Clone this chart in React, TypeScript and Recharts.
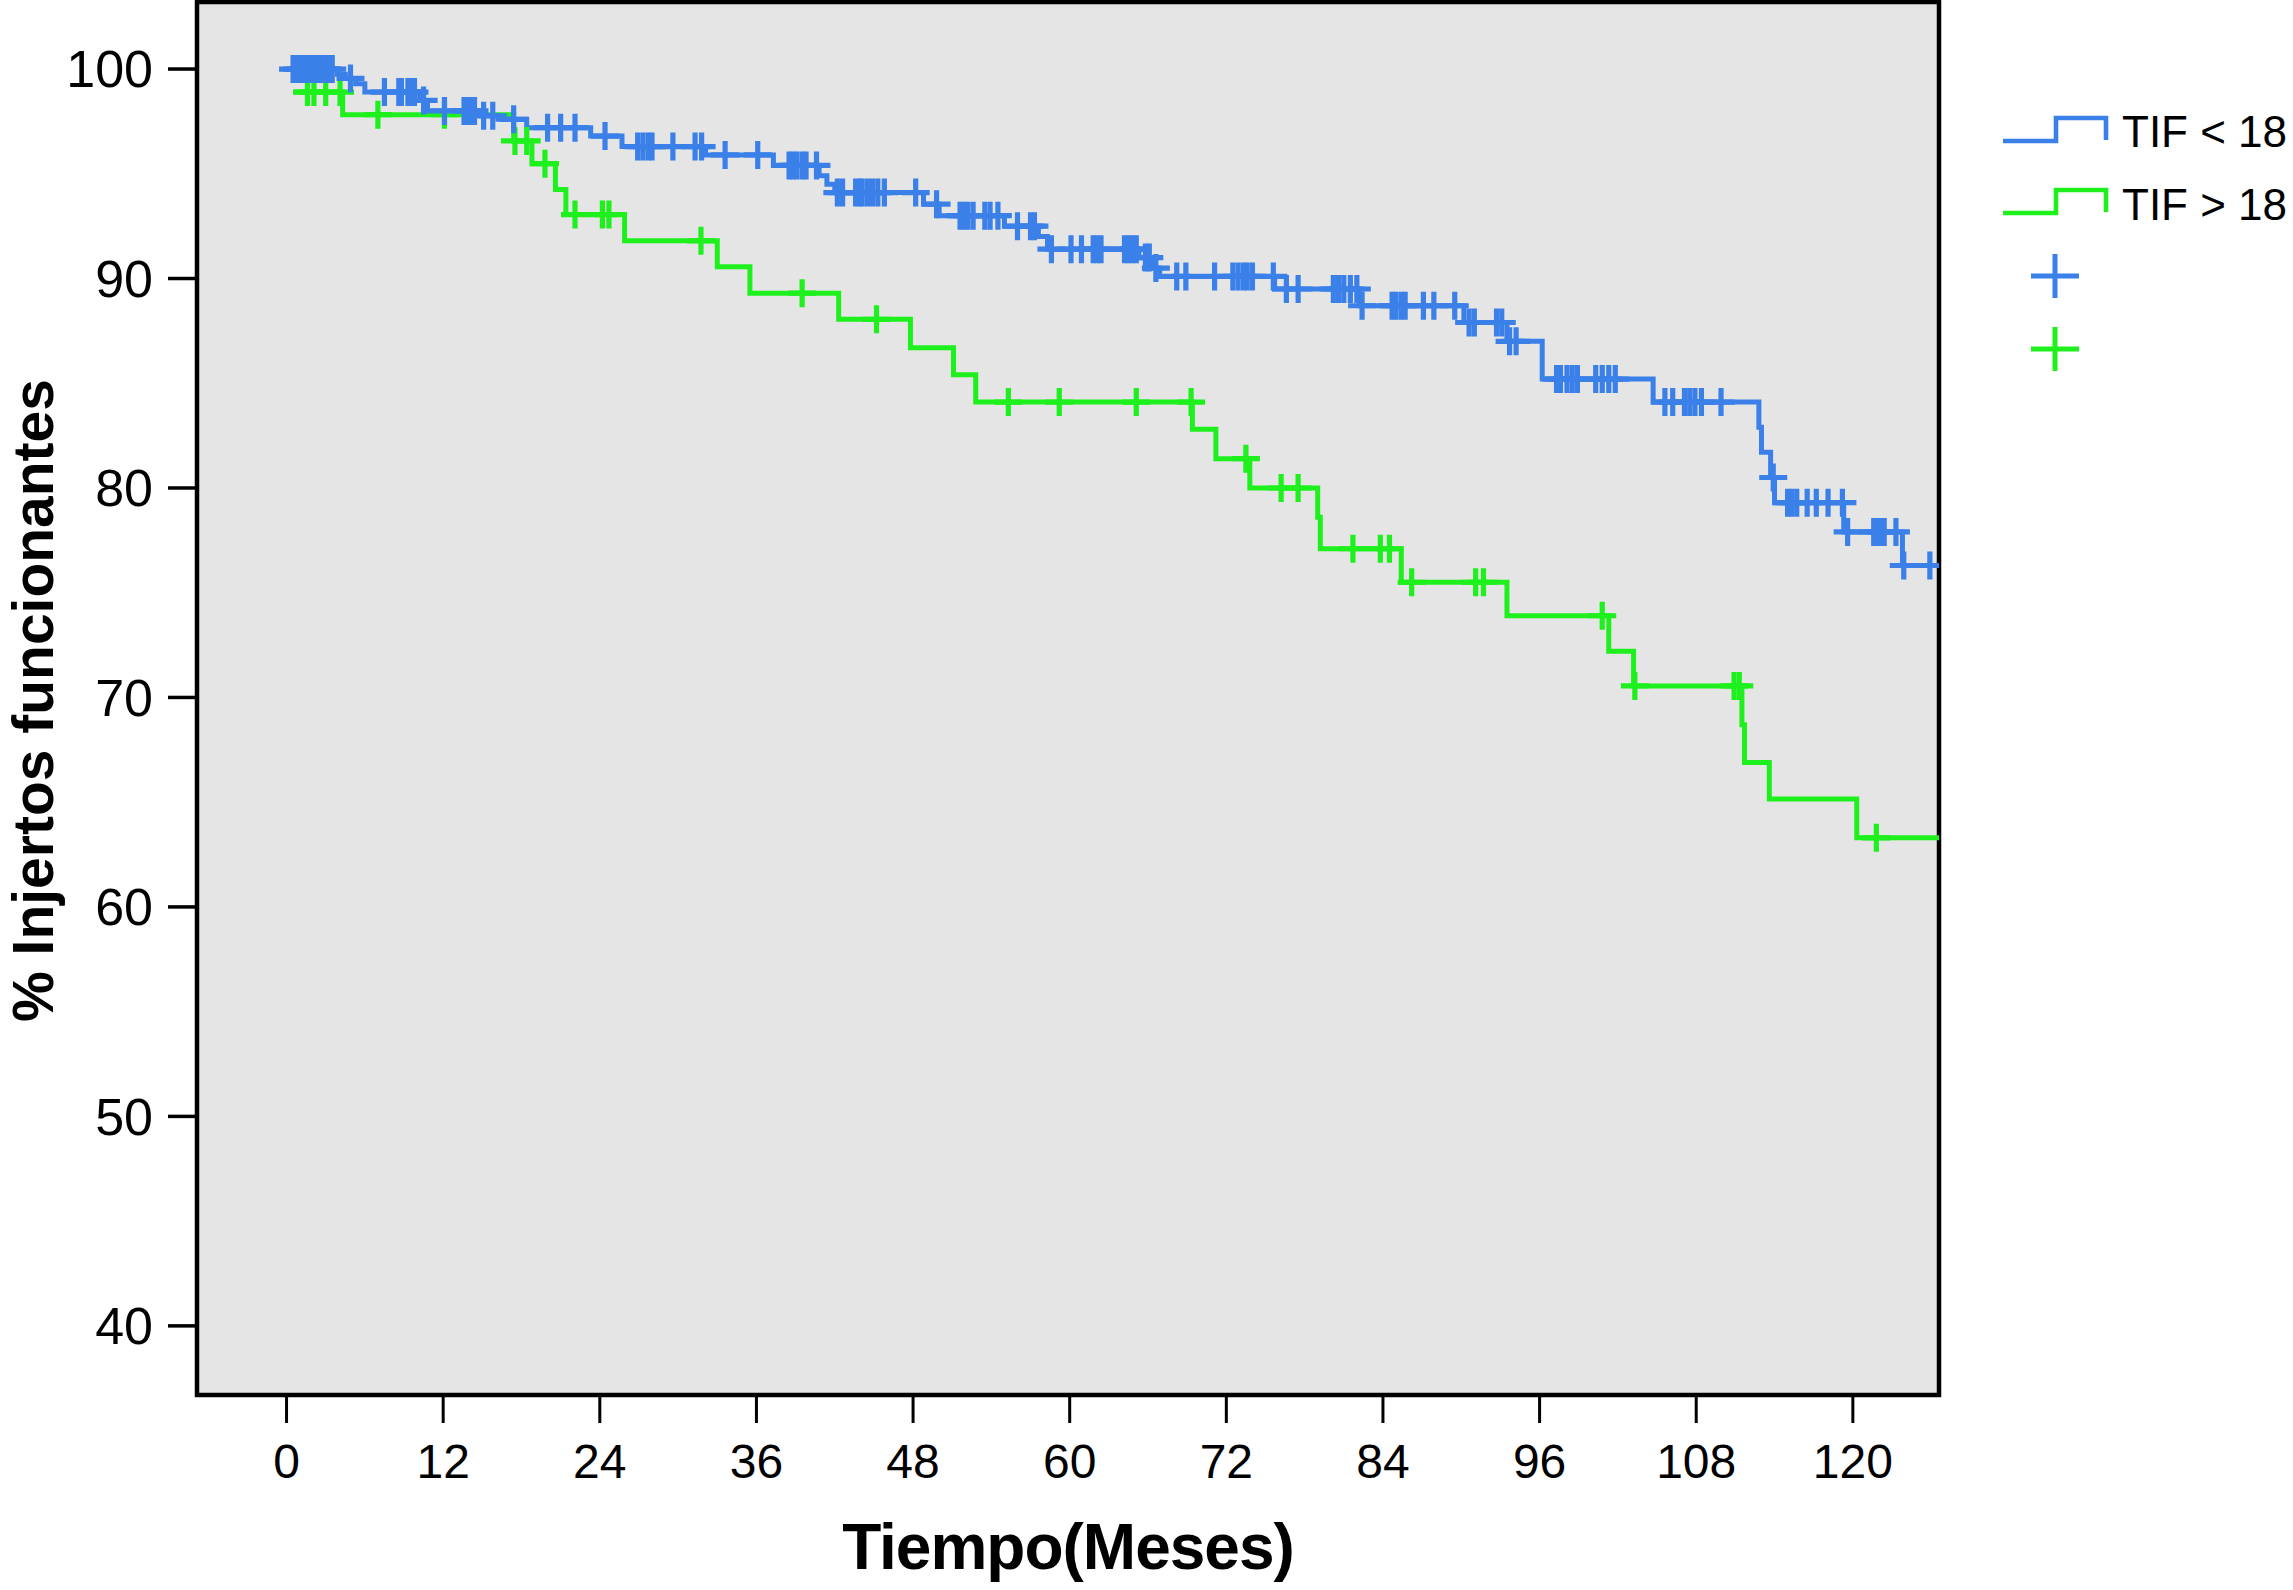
import React from 'react';
import { ComposedChart, Line, Scatter, XAxis, YAxis, CartesianGrid, ReferenceArea } from 'recharts';

const FONT = "'Liberation Sans', Arial, Helvetica, sans-serif";
const BLUE = '#3a80e8';
const GREEN = '#1ef01e';

const xTicks = [0, 12, 24, 36, 48, 60, 72, 84, 96, 108, 120];
const yTicks = [40, 50, 60, 70, 80, 90, 100];
const xDomain = [-6.86, 126.6];
const yDomain = [36.7, 103.2];

const legendLabels = ['TIF < 18', 'TIF > 18'];

// Kaplan-Meier steps (time in months, % functioning grafts after the event)
const blueSteps = [
  { t: 0, s: 100 }, { t: 3.9, s: 99.75 }, { t: 4.5, s: 99.55 }, { t: 5.3, s: 99.3 },
  { t: 6.0, s: 98.9 }, { t: 10.2, s: 98.5 }, { t: 10.8, s: 98.0 }, { t: 14.6, s: 97.77 },
  { t: 16.2, s: 97.6 }, { t: 18.4, s: 97.2 }, { t: 23.3, s: 96.8 }, { t: 25.7, s: 96.3 },
  { t: 32.1, s: 95.9 }, { t: 37.3, s: 95.4 }, { t: 40.8, s: 94.9 }, { t: 41.4, s: 94.5 },
  { t: 42.0, s: 94.1 }, { t: 48.8, s: 93.55 }, { t: 50.0, s: 93.0 }, { t: 55.0, s: 92.5 },
  { t: 57.6, s: 92.0 }, { t: 58.3, s: 91.4 }, { t: 65.3, s: 91.0 }, { t: 66.3, s: 90.5 },
  { t: 66.9, s: 90.1 }, { t: 75.7, s: 89.5 }, { t: 82.2, s: 88.7 }, { t: 90.2, s: 87.9 },
  { t: 93.5, s: 87.0 }, { t: 96.2, s: 85.2 }, { t: 104.7, s: 84.1 }, { t: 112.8, s: 82.9 },
  { t: 113.0, s: 81.7 }, { t: 113.7, s: 80.5 }, { t: 114.0, s: 79.3 }, { t: 119.3, s: 77.9 },
  { t: 123.8, s: 76.3 }, { t: 126.6, s: 76.3 },
];

const blueCensored = [
  { t: 0.5, s: 100 }, { t: 0.8, s: 100 }, { t: 1.1, s: 100 }, { t: 1.4, s: 100 }, { t: 1.7, s: 100 },
  { t: 2.0, s: 100 }, { t: 2.3, s: 100 }, { t: 2.6, s: 100 }, { t: 2.9, s: 100 }, { t: 3.2, s: 100 },
  { t: 3.5, s: 100 }, { t: 4.9, s: 99.55 },
  { t: 7.5, s: 98.9 }, { t: 8.6, s: 98.9 }, { t: 8.8, s: 98.9 }, { t: 9.3, s: 98.9 }, { t: 9.6, s: 98.9 }, { t: 9.8, s: 98.9 },
  { t: 10.5, s: 98.5 },
  { t: 12.1, s: 98.0 }, { t: 13.6, s: 98.0 }, { t: 13.9, s: 98.0 }, { t: 14.2, s: 98.0 }, { t: 14.4, s: 98.0 },
  { t: 15.1, s: 97.77 }, { t: 15.8, s: 97.77 }, { t: 17.4, s: 97.6 },
  { t: 20.0, s: 97.2 }, { t: 21.0, s: 97.2 }, { t: 22.1, s: 97.2 }, { t: 24.4, s: 96.8 },
  { t: 26.9, s: 96.3 }, { t: 27.3, s: 96.3 }, { t: 27.7, s: 96.3 }, { t: 28.0, s: 96.3 }, { t: 29.6, s: 96.3 },
  { t: 31.3, s: 96.3 }, { t: 31.8, s: 96.3 }, { t: 33.6, s: 95.9 }, { t: 36.1, s: 95.9 },
  { t: 38.5, s: 95.4 }, { t: 38.8, s: 95.4 }, { t: 39.1, s: 95.4 }, { t: 39.5, s: 95.4 }, { t: 39.8, s: 95.4 }, { t: 40.6, s: 95.4 },
  { t: 42.2, s: 94.1 }, { t: 42.6, s: 94.1 }, { t: 43.6, s: 94.1 }, { t: 43.9, s: 94.1 }, { t: 44.1, s: 94.1 },
  { t: 44.5, s: 94.1 }, { t: 44.9, s: 94.1 }, { t: 45.3, s: 94.1 }, { t: 45.8, s: 94.1 }, { t: 48.2, s: 94.1 },
  { t: 49.8, s: 93.55 },
  { t: 51.6, s: 93.0 }, { t: 51.9, s: 93.0 }, { t: 52.2, s: 93.0 }, { t: 52.6, s: 93.0 }, { t: 53.5, s: 93.0 },
  { t: 53.9, s: 93.0 }, { t: 54.5, s: 93.0 },
  { t: 56.0, s: 92.5 }, { t: 57.0, s: 92.5 }, { t: 57.3, s: 92.5 },
  { t: 58.6, s: 91.4 }, { t: 60.1, s: 91.4 }, { t: 60.9, s: 91.4 }, { t: 61.8, s: 91.4 }, { t: 62.1, s: 91.4 },
  { t: 62.4, s: 91.4 }, { t: 64.2, s: 91.4 }, { t: 64.5, s: 91.4 }, { t: 64.8, s: 91.4 }, { t: 65.1, s: 91.4 },
  { t: 65.8, s: 91.0 }, { t: 66.1, s: 91.0 }, { t: 66.6, s: 90.5 },
  { t: 68.2, s: 90.1 }, { t: 68.9, s: 90.1 }, { t: 71.1, s: 90.1 }, { t: 72.5, s: 90.1 }, { t: 72.9, s: 90.1 },
  { t: 73.3, s: 90.1 }, { t: 73.6, s: 90.1 }, { t: 74.0, s: 90.1 }, { t: 75.6, s: 90.1 },
  { t: 76.6, s: 89.5 }, { t: 77.5, s: 89.5 }, { t: 80.2, s: 89.5 }, { t: 80.6, s: 89.5 }, { t: 81.0, s: 89.5 },
  { t: 81.5, s: 89.5 }, { t: 82.0, s: 89.5 },
  { t: 82.4, s: 88.7 }, { t: 84.7, s: 88.7 }, { t: 85.0, s: 88.7 }, { t: 85.4, s: 88.7 }, { t: 85.7, s: 88.7 },
  { t: 87.1, s: 88.7 }, { t: 87.9, s: 88.7 }, { t: 89.5, s: 88.7 },
  { t: 90.6, s: 87.9 }, { t: 91.0, s: 87.9 }, { t: 92.7, s: 87.9 }, { t: 93.1, s: 87.9 },
  { t: 93.7, s: 87.0 }, { t: 94.2, s: 87.0 },
  { t: 97.3, s: 85.2 }, { t: 97.6, s: 85.2 }, { t: 98.1, s: 85.2 }, { t: 98.5, s: 85.2 }, { t: 98.9, s: 85.2 },
  { t: 100.3, s: 85.2 }, { t: 100.8, s: 85.2 }, { t: 101.3, s: 85.2 }, { t: 101.8, s: 85.2 },
  { t: 105.6, s: 84.1 }, { t: 106.2, s: 84.1 }, { t: 107.1, s: 84.1 }, { t: 107.5, s: 84.1 }, { t: 107.9, s: 84.1 },
  { t: 108.4, s: 84.1 }, { t: 109.9, s: 84.1 },
  { t: 113.9, s: 80.5 },
  { t: 115.0, s: 79.3 }, { t: 115.3, s: 79.3 }, { t: 115.7, s: 79.3 }, { t: 116.5, s: 79.3 }, { t: 117.2, s: 79.3 },
  { t: 118.1, s: 79.3 }, { t: 119.2, s: 79.3 },
  { t: 119.6, s: 77.9 }, { t: 121.6, s: 77.9 }, { t: 121.9, s: 77.9 }, { t: 122.2, s: 77.9 }, { t: 122.4, s: 77.9 },
  { t: 123.3, s: 77.9 }, { t: 123.9, s: 76.3 }, { t: 125.9, s: 76.3 },
];

const greenSteps = [
  { t: 0.5, s: 98.9 }, { t: 4.3, s: 97.82 }, { t: 17.4, s: 96.57 }, { t: 18.8, s: 95.48 },
  { t: 20.6, s: 94.25 }, { t: 21.4, s: 93.05 }, { t: 25.9, s: 91.8 }, { t: 33.0, s: 90.56 },
  { t: 35.5, s: 89.3 }, { t: 42.3, s: 88.05 }, { t: 47.8, s: 86.7 }, { t: 51.1, s: 85.4 },
  { t: 52.8, s: 84.1 }, { t: 69.4, s: 82.8 }, { t: 71.2, s: 81.4 }, { t: 73.8, s: 80.0 },
  { t: 79.0, s: 78.6 }, { t: 79.2, s: 77.1 }, { t: 85.4, s: 75.5 }, { t: 93.5, s: 73.9 },
  { t: 101.3, s: 72.2 }, { t: 103.2, s: 70.55 }, { t: 111.5, s: 68.7 }, { t: 111.7, s: 66.9 },
  { t: 113.6, s: 65.15 }, { t: 120.3, s: 63.3 }, { t: 126.6, s: 63.3 },
];

const greenCensored = [
  { t: 1.6, s: 98.9 }, { t: 2.1, s: 98.9 }, { t: 3.0, s: 98.9 }, { t: 4.1, s: 98.9 },
  { t: 7.0, s: 97.82 }, { t: 12.1, s: 97.82 }, { t: 17.5, s: 96.57 }, { t: 18.4, s: 96.57 },
  { t: 19.8, s: 95.48 }, { t: 22.1, s: 93.05 }, { t: 24.2, s: 93.05 }, { t: 24.7, s: 93.05 },
  { t: 31.75, s: 91.8 }, { t: 39.5, s: 89.3 }, { t: 45.2, s: 88.05 },
  { t: 55.3, s: 84.1 }, { t: 59.2, s: 84.1 }, { t: 65.1, s: 84.1 }, { t: 69.3, s: 84.1 },
  { t: 73.5, s: 81.4 }, { t: 76.2, s: 80.0 }, { t: 77.5, s: 80.0 },
  { t: 81.7, s: 77.1 }, { t: 83.8, s: 77.1 }, { t: 84.5, s: 77.1 },
  { t: 86.2, s: 75.5 }, { t: 91.1, s: 75.5 }, { t: 91.7, s: 75.5 },
  { t: 100.8, s: 73.9 }, { t: 103.3, s: 70.55 }, { t: 110.9, s: 70.55 }, { t: 111.3, s: 70.55 },
  { t: 121.8, s: 63.3 },
];

const LINE_W = 5;

const makeCross = (color: string, hw: number, hh: number) => (props: any) => {
  const { cx, cy } = props;
  if (cx == null || cy == null) return <g />;
  return (
    <path
      d={`M${cx - hw},${cy}H${cx + hw}M${cx},${cy - hh}V${cy + hh}`}
      stroke={color}
      strokeWidth={5.2}
      fill="none"
    />
  );
};

const YTitle = (props: any) => {
  const vb = props.viewBox || { x: 0, y: 0, width: 0, height: 0 };
  const cx = vb.x + 53;
  const cy = vb.y + vb.height / 2 + 2;
  return (
    <text
      transform={`translate(${cx},${cy}) rotate(-90)`}
      textAnchor="middle"
      fontFamily={FONT}
      fontWeight="bold"
      fontSize={57}
      fill="#000"
    >
      % Injertos funcionantes
    </text>
  );
};

const XTitle = (props: any) => {
  const vb = props.viewBox || { x: 0, y: 0, width: 0, height: 0 };
  return (
    <text
      x={vb.x + vb.width / 2}
      y={vb.y + 174}
      textAnchor="middle"
      fontFamily={FONT}
      fontWeight="bold"
      fontSize={64}
      letterSpacing={-1}
      fill="#000"
    >
      Tiempo(Meses)
    </text>
  );
};

const Legend = () => (
  <svg
    width={2293}
    height={1590}
    style={{ position: 'absolute', left: 0, top: 0, pointerEvents: 'none' }}
  >
    <path d="M2003,141H2056V118H2106V140" stroke={BLUE} strokeWidth={4.6} fill="none" />
    <text x={2122} y={131} dominantBaseline="central" fontFamily={FONT} fontSize={44} fill="#000">
      {legendLabels[0]}
    </text>
    <path d="M2003,213H2056V190H2106V212" stroke={GREEN} strokeWidth={4.6} fill="none" />
    <text x={2122} y={204} dominantBaseline="central" fontFamily={FONT} fontSize={44} fill="#000">
      {legendLabels[1]}
    </text>
    <path d="M2031,276H2079M2055,254V298" stroke={BLUE} strokeWidth={5} fill="none" />
    <path d="M2031,349H2079M2055,327V371" stroke={GREEN} strokeWidth={5} fill="none" />
  </svg>
);

export default function App() {
  return (
    <div style={{ position: 'relative', width: 2293, height: 1590, background: '#fff' }}>
      <style>{'body{margin:0;}'}</style>
      <ComposedChart
        width={2293}
        height={1590}
        margin={{ top: 2, right: 354, bottom: 0, left: 0 }}
      >
        <CartesianGrid horizontal={false} vertical={false} fill="#e5e5e5" />
        <XAxis
          type="number"
          dataKey="t"
          domain={xDomain}
          ticks={xTicks}
          allowDataOverflow
          height={195}
          axisLine={false}
          tickSize={28}
          tickMargin={21}
          tickLine={{ stroke: '#000', strokeWidth: 3 }}
          tick={{ fill: '#000', fontSize: 48, fontFamily: FONT }}
          interval={0}
          label={<XTitle />}
        />
        <YAxis
          type="number"
          dataKey="s"
          domain={yDomain}
          ticks={yTicks}
          allowDataOverflow
          width={197}
          axisLine={false}
          tickSize={29}
          tickMargin={15}
          tickLine={{ stroke: '#000', strokeWidth: 3.5 }}
          tick={{ fill: '#000', fontSize: 52, fontFamily: FONT }}
          interval={0}
          label={<YTitle />}
        />
        <Line
          data={greenSteps}
          dataKey="s"
          type="stepAfter"
          stroke={GREEN}
          strokeWidth={LINE_W}
          dot={false}
          activeDot={false}
          isAnimationActive={false}
        />
        <Scatter
          data={greenCensored}
          dataKey="s"
          shape={makeCross(GREEN, 14, 14)}
          isAnimationActive={false}
        />
        <Line
          data={blueSteps}
          dataKey="s"
          type="stepAfter"
          stroke={BLUE}
          strokeWidth={LINE_W}
          dot={false}
          activeDot={false}
          isAnimationActive={false}
        />
        <Scatter
          data={blueCensored}
          dataKey="s"
          shape={makeCross(BLUE, 14, 14)}
          isAnimationActive={false}
        />
        <ReferenceArea
          x1={xDomain[0]}
          x2={xDomain[1]}
          y1={yDomain[0]}
          y2={yDomain[1]}
          fill="none"
          fillOpacity={0}
          stroke="#000"
          strokeWidth={4.5}
          ifOverflow="visible"
        />
      </ComposedChart>
      <Legend />
    </div>
  );
}
